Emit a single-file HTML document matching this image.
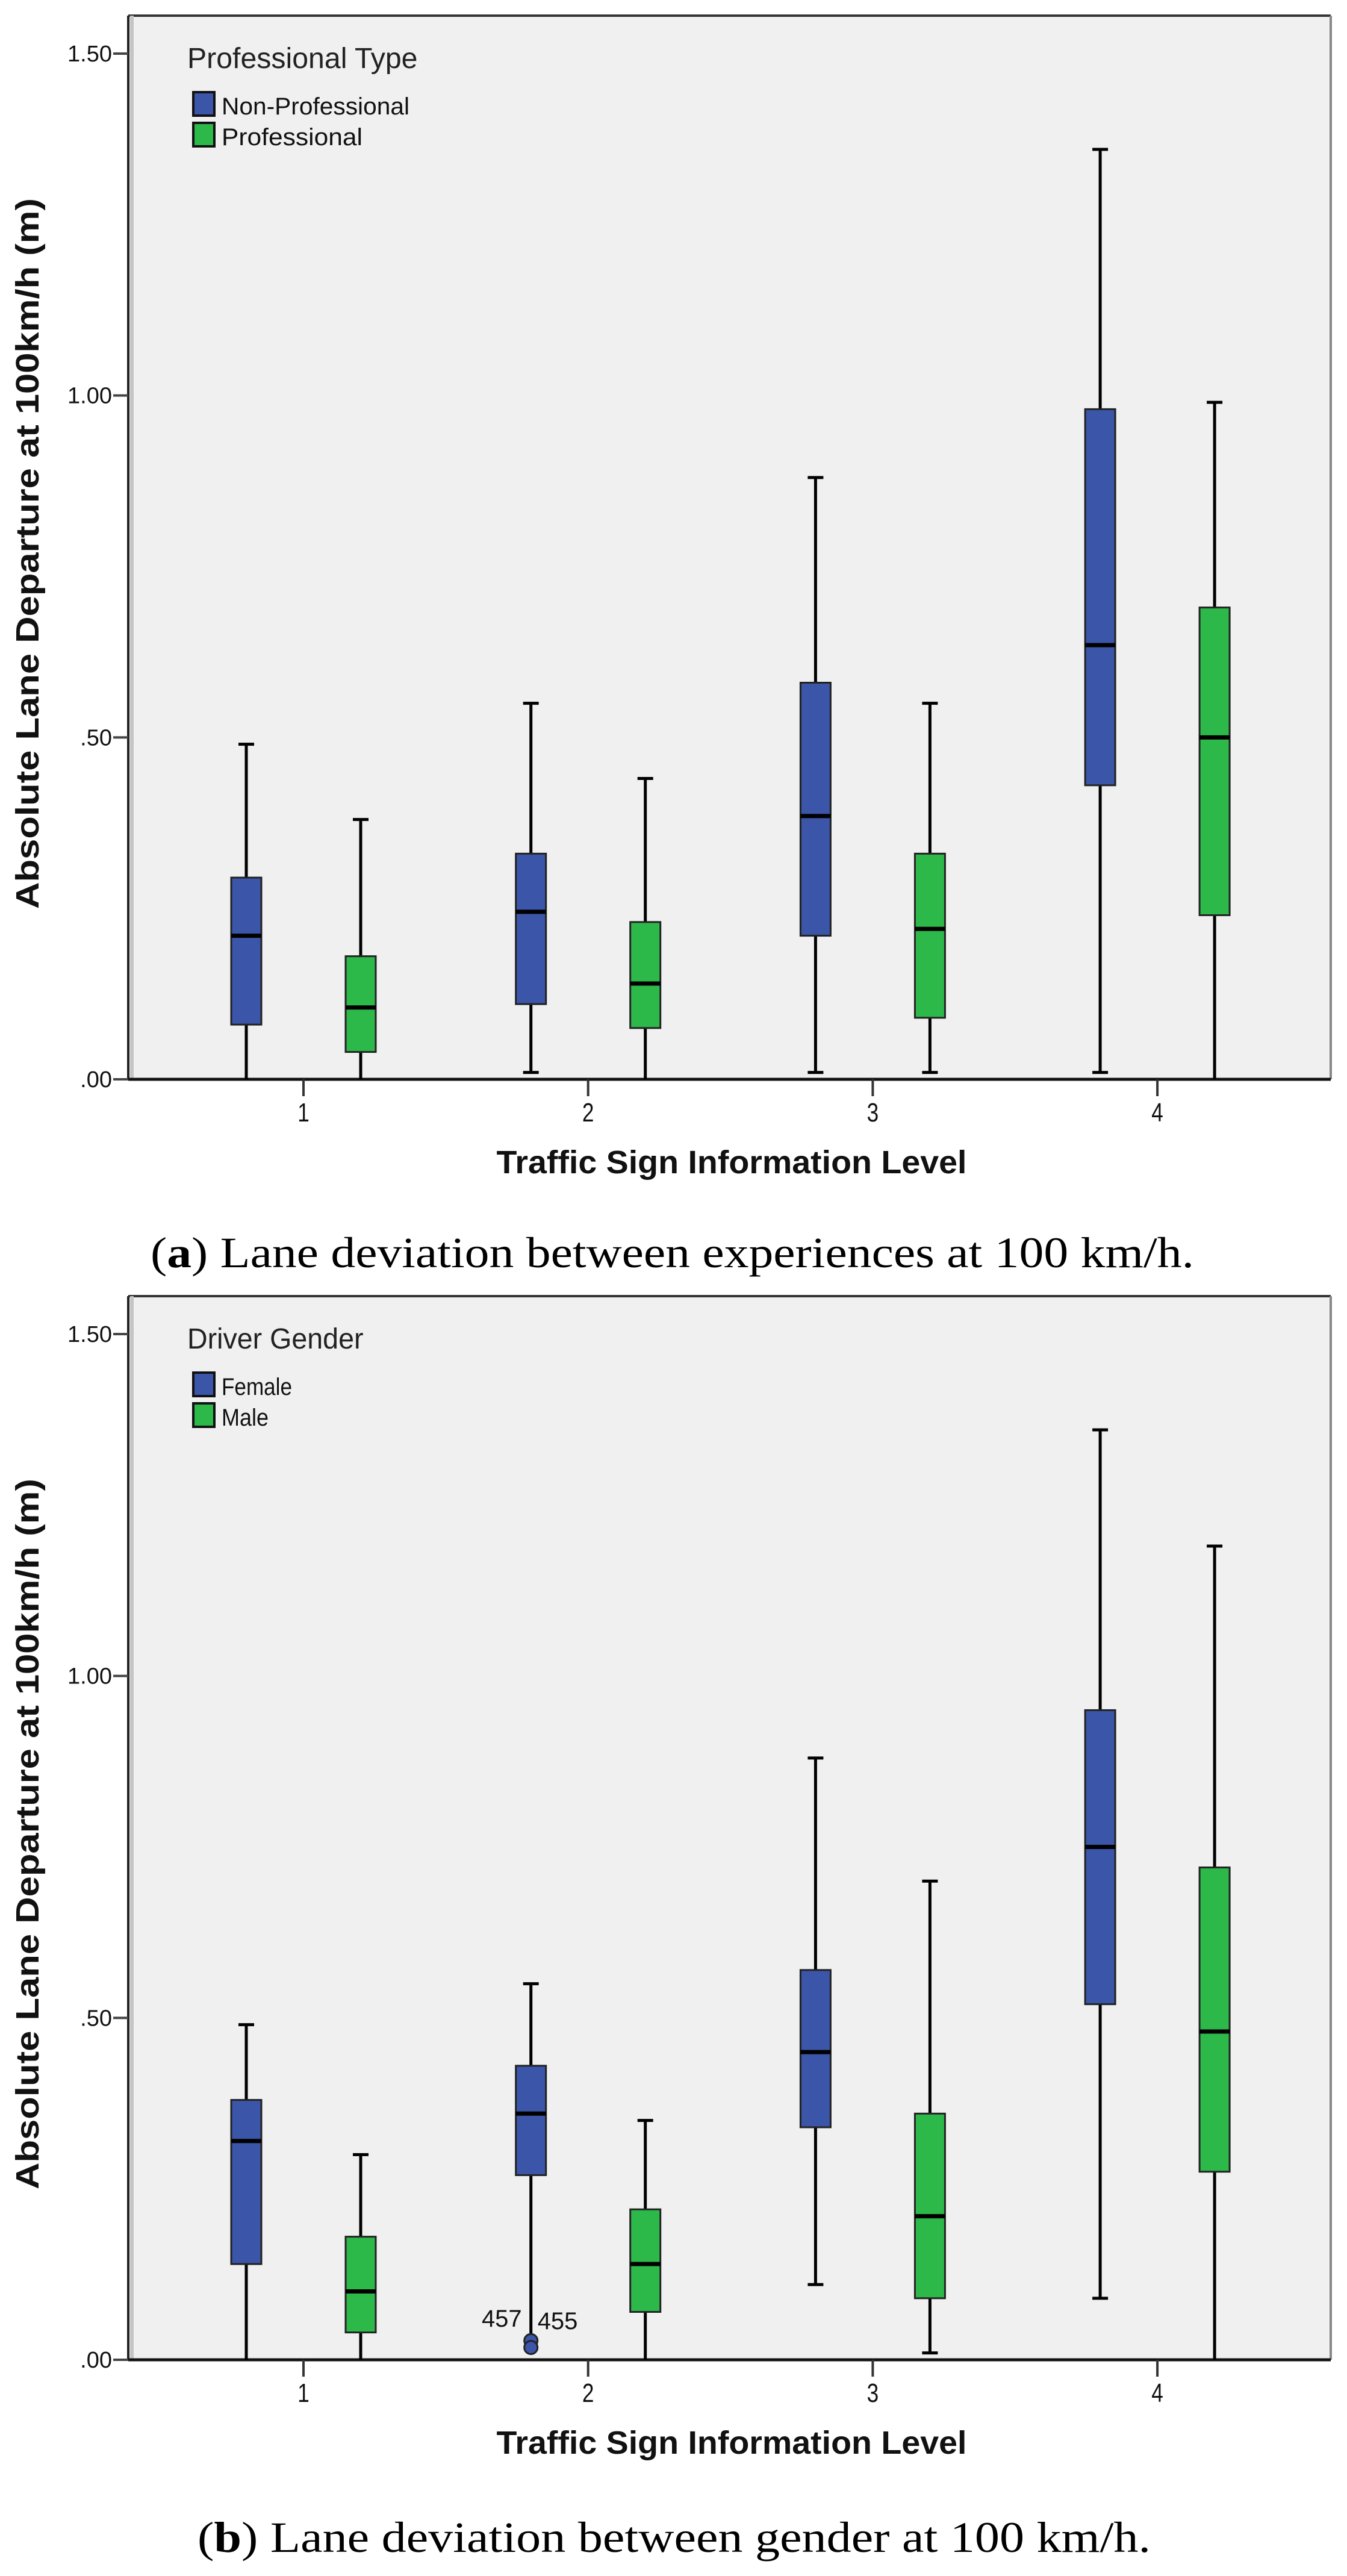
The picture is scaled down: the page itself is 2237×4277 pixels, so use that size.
<!DOCTYPE html>
<html><head><meta charset="utf-8"><style>
html,body{margin:0;padding:0;background:#fff;}
svg{display:block;}
</style></head><body>
<svg id="root" width="2237" height="4277" xmlns="http://www.w3.org/2000/svg"></svg>
<script>
// Shared
const categories = ["1","2","3","4"];
const yTickValues = [0, 0.5, 1.0, 1.5];
const yTickLabels = [".00", ".50", "1.00", "1.50"];
// Chart A: [min, q1, median, q3, max]
const aSeriesNames = ["Non-Professional","Professional"];
const aNonPro = [[0,0.08,0.21,0.295,0.49],[0.01,0.11,0.245,0.33,0.55],[0.01,0.21,0.385,0.58,0.88],[0.01,0.43,0.635,0.98,1.36]];
const aPro = [[0,0.04,0.105,0.18,0.38],[0,0.075,0.14,0.23,0.44],[0.01,0.09,0.22,0.33,0.55],[0,0.24,0.50,0.69,0.99]];
// Chart B
const bSeriesNames = ["Female","Male"];
const bFemale = [[0,0.14,0.32,0.38,0.49],[0.03,0.27,0.36,0.43,0.55],[0.11,0.34,0.45,0.57,0.88],[0.09,0.52,0.75,0.95,1.36]];
const bMale = [[0,0.04,0.10,0.18,0.30],[0,0.07,0.14,0.22,0.35],[0.01,0.09,0.21,0.36,0.70],[0,0.275,0.48,0.72,1.19]];
const bOutlierValues = [0.028, 0.018];
const bOutlierLabels = ["457","455"];

const NS="http://www.w3.org/2000/svg";
const root=document.getElementById('root');
function el(tag,attrs,parent,text){const e=document.createElementNS(NS,tag);for(const k in attrs)e.setAttribute(k,attrs[k]);if(text!==undefined)e.textContent=text;(parent||root).appendChild(e);return e;}

function drawChart(off, title, names, s1, s2, prefix, outliers){
  const L=213,R=2210,T=26+off,B=1792+off;
  const unit=(B-(89+off))/1.5;
  const y=v=>B-v*unit;
  const x=i=>504+i*472.7;
  const g=el('g',{});
  
  
  const bg=el('rect',{x:L,y:T,width:R-L,height:B-T,fill:'#f0f0f0'},g);
  
  
  el('line',{x1:L,y1:T,x2:R,y2:T,stroke:'#333',"stroke-width":4},g);
  el('line',{x1:R,y1:T,x2:R,y2:B,stroke:'#888',"stroke-width":4},g);
  el('line',{x1:L+6,y1:T,x2:L+6,y2:B,stroke:'#c4c4c4',"stroke-width":6},g);
  el('line',{x1:L,y1:T,x2:L,y2:B,stroke:'#222',"stroke-width":4},g);
  el('line',{x1:L,y1:B,x2:R,y2:B,stroke:'#111',"stroke-width":5},g);
  yTickValues.forEach((v,i)=>{
    el('line',{x1:188,y1:y(v),x2:L,y2:y(v),stroke:'#444',"stroke-width":4},g);
    const t=el('text',{x:186,y:y(v)+13,"text-anchor":"end","font-family":"Liberation Sans, sans-serif","font-size":38,fill:'#111'},g,yTickLabels[i]);
    
    
  });
  categories.forEach((c,i)=>{
    el('line',{x1:x(i),y1:B,x2:x(i),y2:B+28,stroke:'#333',"stroke-width":4},g);
    const t=el('text',{x:x(i),y:B+70,"text-anchor":"middle","font-family":"Liberation Sans, sans-serif","font-size":44,fill:'#111',transform:`translate(${x(i)},0) scale(0.8,1) translate(${-x(i)},0)`},g,c);
    
    
  });
  const colors=['#3b55a8','#2db84a'];
  [s1,s2].forEach((ser,si)=>{
    ser.forEach((d,i)=>{
      const cx=x(i)+(si===0?-95:95);
      const bw=50,cap=26;
      const w1=el('line',{x1:cx,y1:y(d[0]),x2:cx,y2:y(d[4]),stroke:'#000',"stroke-width":5},g);
      
      
      el('line',{x1:cx-cap/2,y1:y(d[4]),x2:cx+cap/2,y2:y(d[4]),stroke:'#000',"stroke-width":5},g);
      if(d[0]>0.005 && !(outliers && si===0 && i===1)) el('line',{x1:cx-cap/2,y1:y(d[0]),x2:cx+cap/2,y2:y(d[0]),stroke:'#000',"stroke-width":5},g);
      const b=el('rect',{x:cx-bw/2,y:y(d[3]),width:bw,height:y(d[1])-y(d[3]),fill:colors[si],stroke:'#222',"stroke-width":3},g);
      
      
      el('line',{x1:cx-bw/2,y1:y(d[2]),x2:cx+bw/2,y2:y(d[2]),stroke:'#000',"stroke-width":7},g);
    });
  });
  if(outliers){
    const cx=x(1)-95;
    bOutlierValues.forEach(v=>{
      const o=el('ellipse',{cx:cx,cy:y(v),rx:11,ry:11,fill:'#3b55a8',stroke:'#222',"stroke-width":3},g);
      
      
    });
    const l1=el('text',{x:cx-15,y:y(bOutlierValues[0])-23,"text-anchor":"end","font-family":"Liberation Sans, sans-serif","font-size":40,fill:'#111'},g,bOutlierLabels[0]);
    
    
    const l2=el('text',{x:cx+11,y:y(bOutlierValues[0])-19,"font-family":"Liberation Sans, sans-serif","font-size":40,fill:'#111'},g,bOutlierLabels[1]);
    
    
  }
  const lt=el('text',{x:311,y:113+off,"font-family":"Liberation Sans, sans-serif","font-size":48,fill:'#222',textLength:title.length*22.5,lengthAdjust:'spacingAndGlyphs'},g,title);
  
  
  names.forEach((n,i)=>{
    const yy=153+off+i*51;
    const sw=el('rect',{x:321,y:yy,width:35,height:39,fill:colors[i],stroke:'#111',"stroke-width":4},g);
    
    
    const t=el('text',{x:368,y:yy+37,"font-family":"Liberation Sans, sans-serif","font-size":40,fill:'#111',textLength:n.length*19.5,lengthAdjust:'spacingAndGlyphs'},g,n);
    
    
  });
  const yt=el('text',{x:0,y:0,"text-anchor":"middle","font-family":"Liberation Sans, sans-serif","font-weight":"bold","font-size":54,fill:'#111',textLength:1180,lengthAdjust:'spacingAndGlyphs',transform:`translate(64,${(T+B)/2+10}) rotate(-90)`},g,'Absolute Lane Departure at 100km/h (m)');
  
  
  const xt=el('text',{x:1215,y:1948+off,"text-anchor":"middle","font-family":"Liberation Sans, sans-serif","font-weight":"bold","font-size":54,fill:'#111',textLength:781,lengthAdjust:'spacingAndGlyphs'},g,'Traffic Sign Information Level');
  
  
}
drawChart(0,'Professional Type',aSeriesNames,aNonPro,aPro,'chart-a',false);
drawChart(2126,'Driver Gender',bSeriesNames,bFemale,bMale,'chart-b',true);

function caption(x1,x2,yb,label,rest,name){
  const t=el('text',{x:x1,y:yb,"font-family":"Liberation Serif, serif","font-size":72,fill:'#000',textLength:x2-x1,lengthAdjust:'spacingAndGlyphs'});
  
  
  el('tspan',{},t,'(');
  el('tspan',{"font-weight":"bold"},t,label);
  el('tspan',{},t,') '+rest);
}
caption(250,1983,2104,'a','Lane deviation between experiences at 100 km/h.','caption-a');
caption(328,1911,4237,'b','Lane deviation between gender at 100 km/h.','caption-b');
</script>
</body></html>
